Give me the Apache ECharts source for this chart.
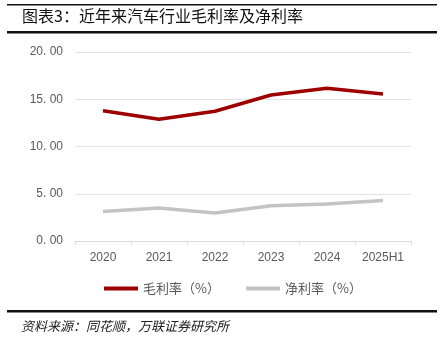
<!DOCTYPE html>
<html><head><meta charset="utf-8">
<script src="https://cdn.jsdelivr.net/npm/echarts@6/dist/echarts.min.js"></script>
<style>html,body{margin:0;padding:0;background:#fff}#c{width:443px;height:337px}</style>
</head><body><div id="c"></div>
<script>
const categories = ['2020','2021','2022','2023','2024','2025H1'];
const grossMargin = [13.79, 12.88, 13.73, 15.45, 16.16, 15.56];
const netMargin = [3.13, 3.48, 2.96, 3.73, 3.91, 4.29];
const seriesNames = ['毛利率（%）', '净利率（%）'];
const yTicks = [0, 5, 10, 15, 20];
const titleText = '图表3：近年来汽车行业毛利率及净利率';
const sourceText = '资料来源：同花顺，万联证券研究所';

const chart = echarts.init(document.getElementById('c'), null, {renderer:'canvas'});
const cjk = '"Noto Sans CJK SC", sans-serif';
chart.setOption({
  animation: false,
  backgroundColor: '#fff',
  grid: {left: 75, right: 32, top: 52, bottom: 96},
  legend: {
    data: seriesNames,
    top: 277, left: 99,
    itemWidth: 34, itemHeight: 4, itemGap: 26,
    icon: 'rect',
    textStyle: {color: '#595959', fontSize: 13, fontFamily: cjk}
  },
  xAxis: {
    type: 'category', data: categories, boundaryGap: true,
    axisLine: {lineStyle: {color: '#d9d9d9'}},
    axisTick: {show: true, lineStyle: {color: '#d9d9d9'}, length: 4},
    axisLabel: {color: '#595959', fontSize: 12, margin: 11, fontFamily: 'Arial, "Liberation Sans", sans-serif'}
  },
  yAxis: {
    type: 'value', min: yTicks[0], max: yTicks[yTicks.length-1], interval: 5,
    axisLine: {show: false}, axisTick: {show: false},
    splitLine: {lineStyle: {color: '#e3e3e3'}},
    axisLabel: {color: '#595959', fontSize: 12, margin: 12, fontFamily: 'Arial, "Liberation Sans", sans-serif',
      formatter: v => v.toFixed(2).replace('.', '. ')}
  },
  series: [
    {name: seriesNames[0], type: 'line', data: grossMargin, symbol: 'none',
     lineStyle: {color: '#9e0000', width: 3.5}, itemStyle: {color: '#9e0000'}},
    {name: seriesNames[1], type: 'line', data: netMargin, symbol: 'none',
     lineStyle: {color: '#c3c3c3', width: 3.5}, itemStyle: {color: '#c3c3c3'}}
  ],
  graphic: [
    {type: 'rect', shape: {x: 7, y: 4, width: 430, height: 1.5}, style: {fill: '#111'}},
    {type: 'text', left: 22, top: 8, style: {text: titleText, font: '16px ' + cjk, fill: '#111'}},
    {type: 'rect', shape: {x: 7, y: 31, width: 430, height: 2.5}, style: {fill: '#111'}},
    {type: 'rect', shape: {x: 7, y: 310, width: 430, height: 2.5}, style: {fill: '#111'}},
    {type: 'text', left: 21, top: 320, style: {text: sourceText, font: 'italic 13px ' + cjk, fill: '#222'}}
  ]
});
</script></body></html>
